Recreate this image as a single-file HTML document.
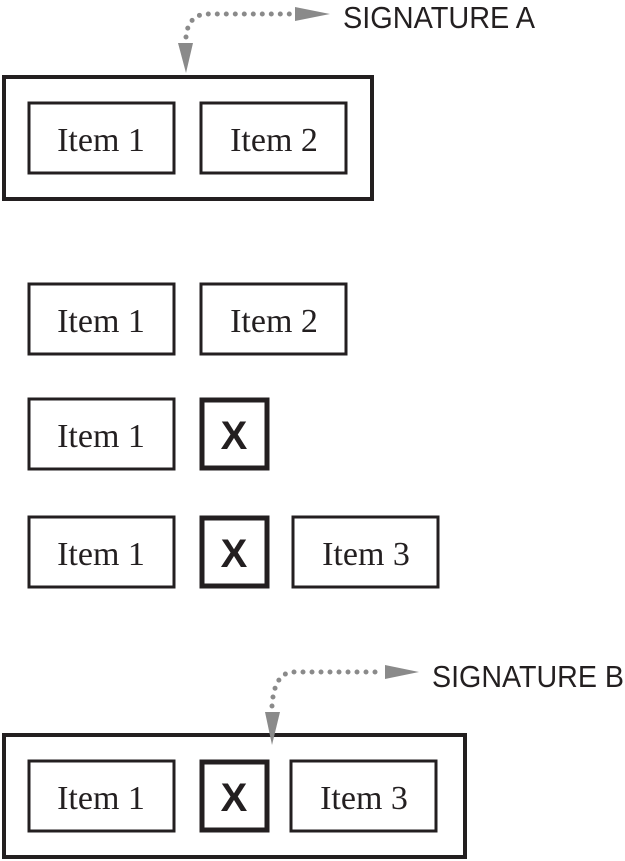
<!DOCTYPE html>
<html><head><style>html,body{margin:0;padding:0;background:#fff;}svg{display:block}</style></head>
<body>
<svg width="625" height="861" viewBox="0 0 625 861" xmlns="http://www.w3.org/2000/svg">
<g fill="none" stroke="#231f20">
<rect x="4" y="77" width="368" height="122" stroke-width="4"/>
<rect x="29" y="103" width="145" height="70" stroke-width="3"/>
<rect x="201" y="103" width="145" height="70" stroke-width="3"/>
<rect x="29" y="284" width="145" height="70" stroke-width="3"/>
<rect x="201" y="284" width="145" height="70" stroke-width="3"/>
<rect x="29" y="399" width="145" height="70" stroke-width="3"/>
<rect x="202" y="400" width="65" height="68" stroke-width="5"/>
<rect x="29" y="517" width="145" height="70" stroke-width="3"/>
<rect x="202" y="518" width="65" height="68" stroke-width="5"/>
<rect x="293" y="517" width="145" height="70" stroke-width="3"/>
<rect x="4" y="735" width="461" height="122" stroke-width="4"/>
<rect x="29" y="761" width="145" height="70" stroke-width="3"/>
<rect x="202" y="762" width="65" height="68" stroke-width="5"/>
<rect x="291" y="761" width="145" height="70" stroke-width="3"/>
</g>
<g fill="none" stroke="#8a8a8a" stroke-width="5" stroke-linecap="round" stroke-dasharray="0 9">
<path d="M186 37 Q188 16 205 14 L295 14"/>
<path d="M272 706 Q274 674 292 672 L383 672"/>
</g>
<g fill="#8a8a8a">
<polygon points="295,7 330,14 295,21"/>
<polygon points="178,43 193,43 186,73"/>
<polygon points="385,665 419,672 385,679"/>
<polygon points="265,712 280,712 272,745"/>
</g>
<g font-family="Liberation Serif, serif" font-size="34" fill="#231f20" text-anchor="middle">
<text x="101" y="151">Item 1</text>
<text x="274" y="151">Item 2</text>
<text x="101" y="332">Item 1</text>
<text x="274" y="332">Item 2</text>
<text x="101" y="447">Item 1</text>
<text x="101" y="565">Item 1</text>
<text x="366" y="565">Item 3</text>
<text x="101" y="809">Item 1</text>
<text x="364" y="809">Item 3</text>
</g>
<g font-family="Liberation Sans, sans-serif" font-weight="bold" font-size="40" fill="#231f20" text-anchor="middle">
<text x="234" y="449">X</text>
<text x="234" y="567">X</text>
<text x="234" y="811">X</text>
</g>
<g font-family="Liberation Sans, sans-serif" font-size="31" fill="#231f20">
<text x="343" y="28" textLength="192" lengthAdjust="spacingAndGlyphs">SIGNATURE A</text>
<text x="432" y="687" textLength="192" lengthAdjust="spacingAndGlyphs">SIGNATURE B</text>
</g>
</svg>
</body></html>
